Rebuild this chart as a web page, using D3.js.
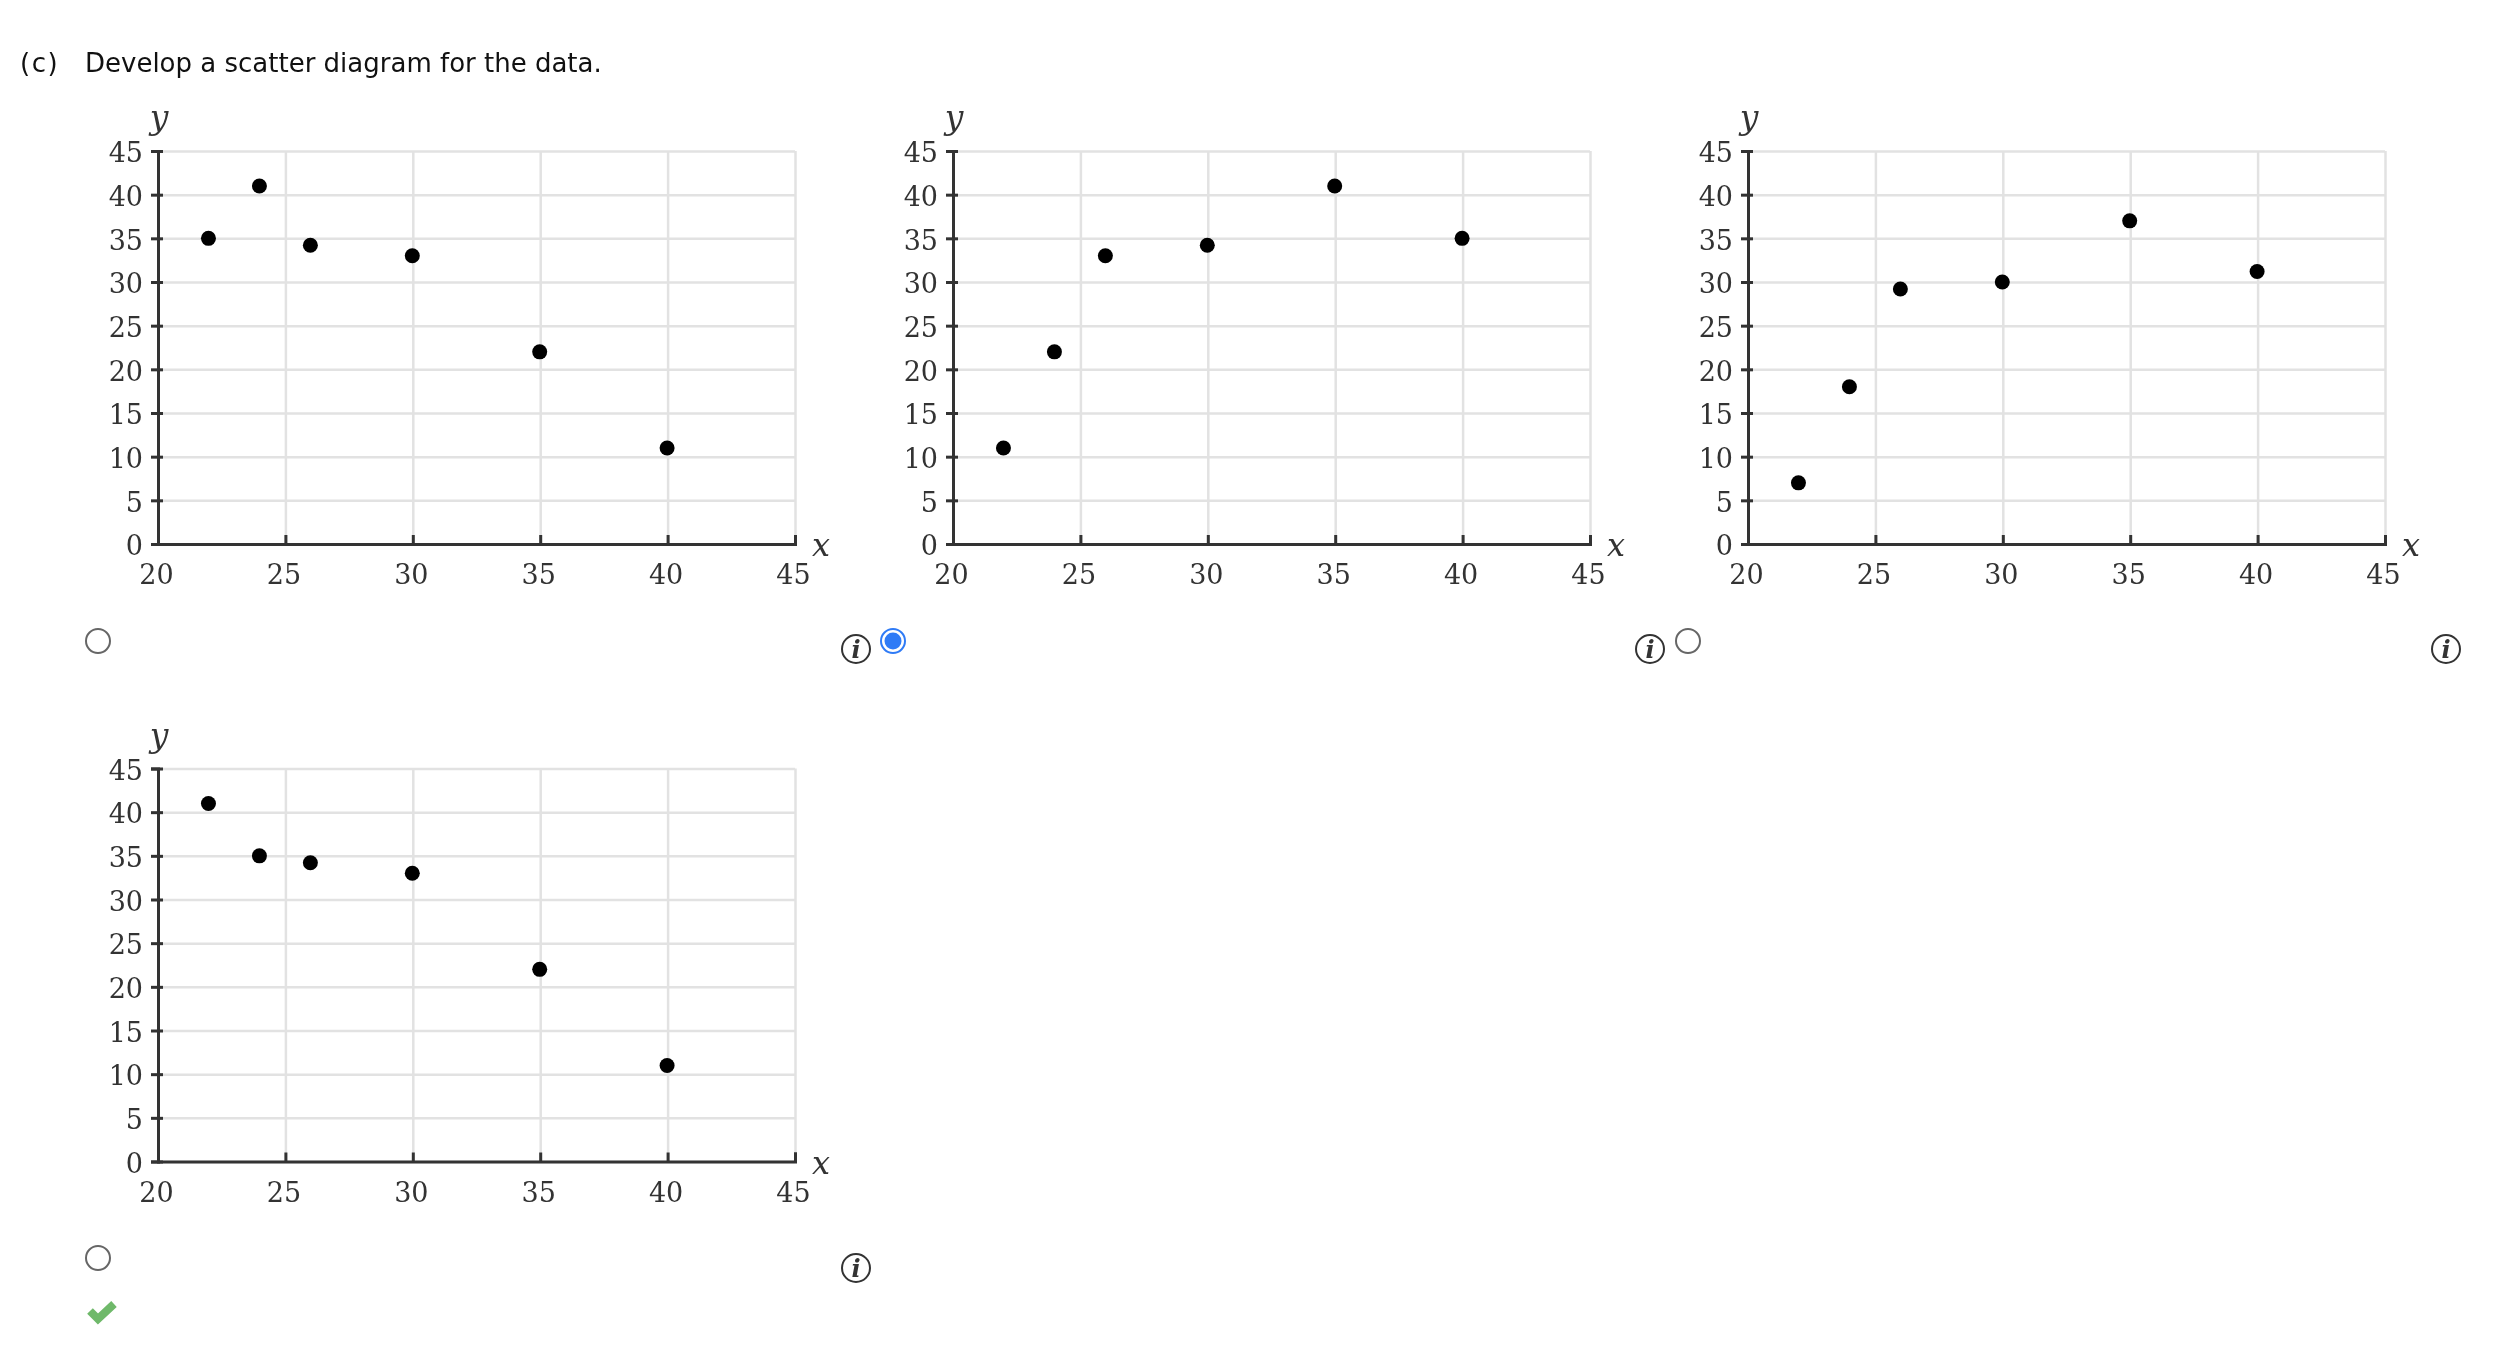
<!DOCTYPE html>
<html>
<head>
<meta charset="utf-8">
<script src="https://cdn.jsdelivr.net/npm/d3@7"></script>
<style>
  body { margin: 0; background: #fff; }
  svg { filter: blur(0.6px); }
  .tick text { font-family: "DejaVu Serif", serif; font-size: 27px; fill: #333; }
  .domain { stroke: #333; stroke-width: 3px; }
  .tick line { stroke: #333; stroke-width: 3px; }
  .grid line { stroke: #e2e2e2; stroke-width: 2.5px; }
  .grid .domain { stroke: none; }
</style>
</head>
<body>
<script>
// values
var xValues = [22, 24, 26, 30, 35, 40];
var optionA = [35, 41, 34.2, 33, 22, 11];
var optionB = [11, 22, 33, 34.2, 41, 35];
var optionC = [7, 18, 29.2, 30, 37, 31.2];
var optionD = [41, 35, 34.2, 33, 22, 11];
var xTicks = [20, 25, 30, 35, 40, 45];
var yTicks = [0, 5, 10, 15, 20, 25, 30, 35, 40, 45];

var width = 637, height = 393;

var svg = d3.select("body").append("svg")
    .attr("width", 2518)
    .attr("height", 1352)
    .style("display", "block");

svg.append("text")
    .attr("x", 20).attr("y", 72)
    .attr("font-family", "DejaVu Sans").attr("font-size", 26).attr("fill", "#111")
    .attr("letter-spacing", 1.5)
    .text("(c)");
svg.append("text")
    .attr("x", 85).attr("y", 72)
    .attr("font-family", "DejaVu Sans").attr("font-size", 26).attr("fill", "#111")
    .text("Develop a scatter diagram for the data.");

var x = d3.scaleLinear().domain([20, 45]).range([0, width]);
var y = d3.scaleLinear().domain([0, 45]).range([height, 0]);

function drawPlot(values, left, top) {
  var g = svg.append("g").attr("transform", "translate(" + left + "," + top + ")");

  // gridlines
  g.append("g").attr("class", "grid")
      .attr("transform", "translate(0," + height + ")")
      .call(d3.axisBottom(x).tickValues(xTicks).tickSize(-height).tickFormat(""));
  g.append("g").attr("class", "grid")
      .call(d3.axisLeft(y).tickValues(yTicks).tickSize(-width).tickFormat(""));

  // x axis, ticks point up into the plot
  var xAxis = g.append("g")
      .attr("transform", "translate(0," + height + ")")
      .call(d3.axisBottom(x).tickValues(xTicks).tickSizeOuter(0).tickSize(-9).tickPadding(21));
  xAxis.selectAll("text").attr("dy", "0.71em").attr("dx", -2);

  // y axis, ticks cross the line
  var yAxis = g.append("g")
      .call(d3.axisLeft(y).tickValues(yTicks).tickSizeOuter(0).tickSize(7).tickPadding(8));
  yAxis.selectAll(".tick line").attr("x1", 5).attr("x2", -7);
  yAxis.selectAll("text").attr("dy", "0.4em");

  // dots sit slightly left of the gridlines in the original
  g.append("g").attr("transform", "translate(-0.5,0)")
    .selectAll("circle")
    .data(values)
    .enter()
    .append("circle")
      .attr("cx", function (d, i) { return x(xValues[i]); })
      .attr("cy", function (d) { return y(d); })
      .attr("r", 7.5)
      .style("fill", "#000");

  g.append("text")
      .attr("x", 1).attr("y", -22)
      .attr("text-anchor", "middle")
      .attr("font-family", "DejaVu Serif").attr("font-style", "italic")
      .attr("font-size", 33).attr("fill", "#333")
      .text("y");
  g.append("text")
      .attr("x", width + 26).attr("y", height + 12)
      .attr("text-anchor", "middle")
      .attr("font-family", "DejaVu Serif").attr("font-style", "italic")
      .attr("font-size", 32).attr("fill", "#333")
      .text("x");
}

function radio(cx, cy, selected) {
  svg.append("circle")
      .attr("cx", cx).attr("cy", cy).attr("r", 12)
      .attr("fill", "#fff")
      .attr("stroke", selected ? "#2f7bf6" : "#666")
      .attr("stroke-width", 2);
  if (selected) {
    svg.append("circle").attr("cx", cx).attr("cy", cy).attr("r", 8.5).attr("fill", "#2f7bf6");
  }
}

function info(cx, cy) {
  svg.append("circle")
      .attr("cx", cx).attr("cy", cy).attr("r", 14)
      .attr("fill", "#fff").attr("stroke", "#333").attr("stroke-width", 2);
  svg.append("text")
      .attr("x", cx).attr("y", cy + 9)
      .attr("text-anchor", "middle")
      .attr("font-family", "DejaVu Serif").attr("font-style", "italic").attr("font-weight", "bold")
      .attr("font-size", 24).attr("fill", "#333")
      .text("i");
}

drawPlot(optionA, 158, 151);
drawPlot(optionB, 953, 151);
drawPlot(optionC, 1748, 151);
drawPlot(optionD, 158, 768.5);

radio(98, 641, false);
radio(893, 641, true);
radio(1688, 641, false);
radio(98, 1258, false);

info(856, 649);
info(1650, 649);
info(2446, 649);
info(856, 1268);

// green check mark under the last option
svg.append("path")
    .attr("d", d3.line()([[90, 1311], [98, 1319], [114, 1304]]))
    .attr("fill", "none")
    .attr("stroke", "#6fb96a")
    .attr("stroke-width", 8);
</script>
</body>
</html>
